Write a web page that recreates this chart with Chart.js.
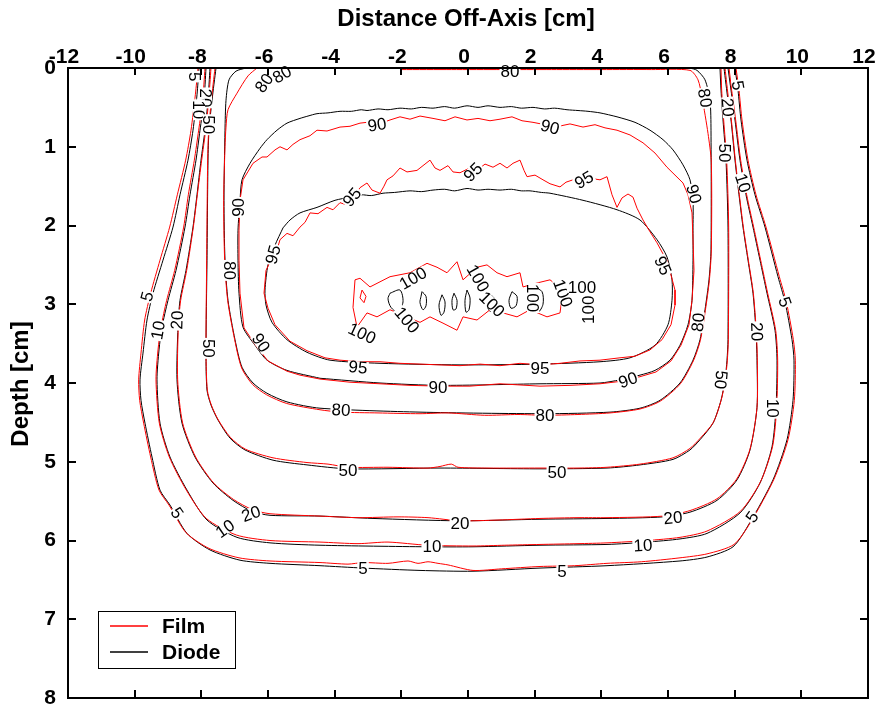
<!DOCTYPE html>
<html>
<head>
<meta charset="utf-8">
<title>Isodose contours: Film vs Diode</title>
<script src="https://cdn.jsdelivr.net/npm/chart.js@4.4.1/dist/chart.umd.min.js"></script>
<style>
  html, body { margin: 0; padding: 0; background: #ffffff; }
  #wrap { width: 880px; height: 707px; }
</style>
</head>
<body>
<div id="wrap"><canvas id="c" width="880" height="707"></canvas></div>
<script>
// Axes
const xTickValues = [-12, -10, -8, -6, -4, -2, 0, 2, 4, 6, 8, 10, 12];
const xTickLabels = ['-12', '-10', '-8', '-6', '-4', '-2', '0', '2', '4', '6', '8', '10', '12'];
const yTickValues = [0, 1, 2, 3, 4, 5, 6, 7, 8];
const yTickLabels = ['0', '1', '2', '3', '4', '5', '6', '7', '8'];
const seriesNames = ['Film', 'Diode'];

// Diode isodose lines: [off-axis cm, depth cm]
const diode5 = [[-8.07,0],[-8.13,0.34],[-8.25,0.79],[-8.40,1.17],[-8.64,1.61],[-8.85,2.02],[-9.15,2.44],[-9.45,2.86],[-9.63,3.20],[-9.75,3.62],[-9.84,3.96],[-9.81,4.22],[-9.69,4.51],[-9.48,4.94],[-9.24,5.36],[-8.94,5.55],[-8.43,5.91],[-7.74,6.12],[-6.84,6.25],[-5.94,6.29],[-4.44,6.32],[-3.15,6.35],[-1.44,6.38],[0.15,6.39],[2.16,6.35],[4.17,6.32],[6.36,6.26],[7.17,6.21],[7.95,6.08],[8.46,5.77],[9.15,5.23],[9.57,4.72],[9.75,4.22],[9.78,3.71],[9.72,3.45],[9.51,2.97],[9.30,2.65],[8.91,2.02],[8.61,1.61],[8.37,1.17],[8.19,0.66],[8.10,0.28],[8.01,0]];
const diode10 = [[-7.86,0],[-7.92,0.41],[-8.04,0.79],[-8.16,1.17],[-8.34,1.61],[-8.49,2.02],[-8.76,2.57],[-9.00,2.95],[-9.18,3.29],[-9.27,3.58],[-9.33,3.96],[-9.24,4.51],[-8.94,4.94],[-8.43,5.36],[-7.83,5.74],[-6.93,5.96],[-5.94,6.03],[-4.44,6.06],[-1.23,6.08],[0.15,6.08],[2.16,6.06],[4.17,6.05],[5.37,6.02],[6.36,5.98],[7.17,5.91],[8.16,5.65],[8.76,5.27],[9.12,4.81],[9.24,4.31],[9.27,3.71],[9.21,3.33],[8.97,2.86],[8.76,2.44],[8.55,2.02],[8.34,1.61],[8.16,1.17],[8.01,0.66],[7.89,0.28],[7.80,0]];
const diode20 = [[-7.74,0],[-7.80,0.41],[-7.89,0.79],[-8.01,1.17],[-8.13,1.61],[-8.25,2.02],[-8.46,2.57],[-8.64,2.95],[-8.70,3.29],[-8.73,3.96],[-8.58,4.51],[-8.19,4.94],[-7.65,5.27],[-7.05,5.49],[-6.48,5.63],[-5.94,5.68],[-4.44,5.69],[-2.85,5.72],[-0.24,5.75],[2.16,5.73],[4.17,5.72],[5.85,5.70],[6.66,5.64],[7.47,5.49],[8.07,5.23],[8.46,4.85],[8.67,4.31],[8.67,3.71],[8.64,3.35],[8.55,2.86],[8.40,2.44],[8.25,2.02],[8.13,1.61],[8.01,1.17],[7.89,0.66],[7.80,0.41],[7.68,0]];
const diode50 = [[-7.56,0],[-7.68,0.41],[-7.77,0.79],[-7.80,1.17],[-7.83,2.44],[-7.86,3.62],[-7.83,4.09],[-7.71,4.28],[-7.50,4.47],[-7.14,4.70],[-6.69,4.85],[-5.85,4.98],[-4.83,5.04],[-3.60,5.09],[-0.84,5.08],[2.16,5.09],[4.17,5.08],[5.16,5.04],[6.15,4.97],[6.66,4.85],[6.96,4.72],[7.35,4.51],[7.59,4.22],[7.71,3.96],[7.77,3.71],[7.80,3.45],[7.80,2.02],[7.74,1.17],[7.65,0.66],[7.59,0.28],[7.56,0]];
const diode80 = [[-6.66,0],[-6.96,0.04],[-7.17,0.15],[-7.26,0.41],[-7.29,0.79],[-7.32,1.68],[-7.29,2.44],[-7.20,2.95],[-6.99,3.45],[-6.78,3.80],[-6.45,4.00],[-6.03,4.13],[-5.43,4.24],[-4.44,4.32],[-1.44,4.37],[2.31,4.39],[4.26,4.37],[5.16,4.32],[5.76,4.22],[6.36,4.00],[6.75,3.71],[6.96,3.45],[7.11,3.07],[7.23,2.69],[7.29,2.31],[7.29,0.79],[7.26,0.41],[7.11,0.15],[6.87,0.03],[6.66,0]];
const diode90 = [[-4.44,3.94],[-5.43,3.84],[-6.03,3.71],[-6.39,3.52],[-6.75,3.29],[-6.87,2.86],[-6.90,2.44],[-6.90,2.06],[-6.84,1.68],[-6.78,1.42],[-6.54,1.21],[-6.24,1.02],[-6.03,0.91],[-5.73,0.79],[-5.43,0.70],[-5.04,0.64],[-4.80,0.61],[-4.53,0.58],[-4.20,0.57],[-3.84,0.55],[-3.50,0.55],[-3.20,0.53],[-3.03,0.54],[-2.70,0.52],[-2.40,0.53],[-2.04,0.51],[-1.70,0.52],[-1.40,0.50],[-1.05,0.51],[-0.70,0.49],[-0.40,0.51],[-0.03,0.48],[0.30,0.50],[0.60,0.48],[0.96,0.50],[1.30,0.49],[1.60,0.51],[1.95,0.50],[2.30,0.52],[2.60,0.51],[2.97,0.53],[3.30,0.54],[3.60,0.55],[3.96,0.57],[4.47,0.62],[5.01,0.69],[5.46,0.79],[5.85,0.91],[6.15,1.04],[6.45,1.23],[6.66,1.42],[6.75,1.68],[6.75,2.06],[6.75,2.44],[6.72,2.95],[6.60,3.26],[6.36,3.52],[6.06,3.71],[5.61,3.84],[5.16,3.90],[4.56,3.96],[3.96,4.00],[2.16,4.01],[-0.84,4.03],[-2.64,4.00],[-4.44,3.94]];
const diode95 = [[-5.55,2.03],[-5.34,1.93],[-5.04,1.84],[-4.53,1.77],[-3.99,1.68],[-3.54,1.64],[-3.20,1.61],[-2.90,1.62],[-2.55,1.59],[-2.20,1.58],[-1.74,1.56],[-1.40,1.57],[-1.05,1.55],[-0.70,1.54],[-0.40,1.56],[-0.03,1.53],[0.30,1.55],[0.60,1.54],[0.96,1.55],[1.30,1.54],[1.60,1.56],[1.86,1.56],[2.20,1.58],[2.46,1.59],[3.45,1.68],[4.47,1.80],[5.16,1.93],[5.67,2.18],[5.97,2.40],[6.12,2.69],[6.12,2.95],[6.00,3.26],[5.61,3.52],[4.86,3.68],[3.96,3.73],[2.16,3.76],[-0.24,3.77],[-2.64,3.75],[-4.14,3.71],[-4.83,3.61],[-5.43,3.45],[-5.88,3.23],[-6.06,3.01],[-6.09,2.82],[-6.00,2.50],[-5.79,2.25],[-5.55,2.03]];
const diode100 = [
  [[-2.34,2.86],[-2.04,2.82],[-1.95,2.97],[-2.10,3.10],[-2.31,3.04],[-2.40,2.93],[-2.34,2.86]],
  [[-1.38,2.84],[-1.26,2.90],[-1.26,3.02],[-1.35,3.07],[-1.44,2.98],[-1.41,2.90],[-1.38,2.84]],
  [[-0.78,2.88],[-0.69,2.97],[-0.72,3.10],[-0.81,3.14],[-0.87,3.01],[-0.78,2.88]],
  [[-0.42,2.86],[-0.33,2.95],[-0.36,3.06],[-0.45,3.07],[-0.48,2.95],[-0.42,2.86]],
  [[-0.03,2.82],[0.06,2.92],[0.03,3.07],[-0.06,3.10],[-0.09,2.95],[-0.03,2.82]],
  [[0.60,2.86],[0.78,2.92],[0.81,3.04],[0.66,3.09],[0.54,2.97],[0.60,2.86]],
  [[1.32,2.84],[1.47,2.90],[1.44,3.02],[1.29,3.05],[1.23,2.95],[1.32,2.84]],
  [[1.98,2.78],[2.22,2.84],[2.25,3.00],[2.10,3.10],[1.89,3.02],[1.86,2.88],[1.98,2.78]]
];

// Film isodose lines: [off-axis cm, depth cm]
const film5 = [[-8.10,0],[-8.18,0.34],[-8.31,0.79],[-8.47,1.17],[-8.72,1.61],[-8.95,2.02],[-9.24,2.44],[-9.52,2.86],[-9.70,3.20],[-9.81,3.62],[-9.88,3.96],[-9.85,4.22],[-9.73,4.51],[-9.52,4.94],[-9.27,5.36],[-8.97,5.55],[-8.46,5.90],[-7.77,6.10],[-6.87,6.22],[-5.94,6.26],[-4.44,6.28],[-3.60,6.30],[-3.15,6.28],[-2.40,6.29],[-1.80,6.26],[-1.50,6.29],[-1.20,6.27],[-0.90,6.29],[-0.60,6.31],[0.15,6.38],[1.00,6.36],[2.16,6.33],[3.20,6.32],[4.17,6.29],[5.20,6.27],[6.36,6.22],[7.17,6.17],[7.98,6.05],[8.49,5.76],[9.18,5.22],[9.60,4.72],[9.79,4.22],[9.82,3.71],[9.76,3.45],[9.55,2.97],[9.34,2.65],[8.94,2.02],[8.64,1.61],[8.40,1.17],[8.22,0.66],[8.13,0.28],[8.04,0]];
const film10 = [[-7.89,0],[-7.96,0.41],[-8.08,0.79],[-8.21,1.17],[-8.39,1.61],[-8.53,2.02],[-8.80,2.57],[-9.04,2.95],[-9.21,3.29],[-9.30,3.58],[-9.36,3.96],[-9.26,4.51],[-8.96,4.94],[-8.45,5.36],[-7.85,5.72],[-6.95,5.93],[-5.94,6.00],[-4.44,6.02],[-3.30,6.04],[-2.40,6.02],[-1.23,6.06],[0.15,6.07],[1.10,6.06],[2.16,6.05],[3.30,6.04],[4.17,6.03],[5.37,6.00],[6.36,5.96],[7.17,5.88],[8.17,5.63],[8.78,5.25],[9.14,4.80],[9.26,4.31],[9.29,3.71],[9.23,3.33],[8.99,2.86],[8.78,2.44],[8.57,2.02],[8.36,1.61],[8.18,1.17],[8.03,0.66],[7.91,0.28],[7.83,0]];
const film20 = [[-7.71,0],[-7.78,0.41],[-7.87,0.79],[-7.99,1.17],[-8.12,1.61],[-8.24,2.02],[-8.44,2.57],[-8.62,2.95],[-8.69,3.29],[-8.71,3.96],[-8.56,4.51],[-8.17,4.94],[-7.63,5.27],[-7.03,5.48],[-6.46,5.61],[-5.94,5.66],[-4.44,5.69],[-3.30,5.71],[-2.10,5.70],[-1.20,5.71],[-0.24,5.75],[0.90,5.74],[2.16,5.72],[3.30,5.71],[4.17,5.71],[5.85,5.69],[6.66,5.62],[7.47,5.47],[8.06,5.22],[8.46,4.84],[8.67,4.31],[8.68,3.71],[8.65,3.35],[8.56,2.86],[8.41,2.44],[8.26,2.02],[8.14,1.61],[8.02,1.17],[7.90,0.66],[7.82,0.41],[7.71,0]];
const film50 = [[-7.59,0],[-7.70,0.41],[-7.78,0.79],[-7.81,1.17],[-7.84,2.44],[-7.86,3.62],[-7.82,4.09],[-7.70,4.28],[-7.49,4.47],[-7.13,4.69],[-6.68,4.84],[-5.85,4.95],[-4.83,5.01],[-4.20,5.03],[-3.60,5.07],[-2.40,5.07],[-1.20,5.08],[-0.84,5.06],[-0.50,5.03],[-0.30,5.07],[0.60,5.08],[2.16,5.08],[3.30,5.08],[4.17,5.07],[5.16,5.03],[6.15,4.95],[6.66,4.83],[6.97,4.70],[7.36,4.50],[7.60,4.21],[7.72,3.95],[7.78,3.71],[7.81,3.45],[7.82,2.02],[7.76,1.17],[7.67,0.66],[7.61,0.28],[7.59,0]];
const film80 = [[-6.33,0],[-6.60,0.10],[-6.93,0.32],[-7.20,0.53],[-7.26,0.75],[-7.29,1.00],[-7.33,1.68],[-7.30,2.44],[-7.21,2.95],[-7.00,3.45],[-6.79,3.81],[-6.46,4.02],[-6.04,4.15],[-5.44,4.26],[-4.44,4.34],[-3.80,4.37],[-2.70,4.38],[-1.44,4.39],[-0.60,4.38],[0.50,4.41],[1.50,4.40],[2.31,4.41],[3.30,4.40],[4.26,4.38],[5.16,4.33],[5.77,4.23],[6.37,4.01],[6.76,3.72],[6.97,3.46],[7.12,3.08],[7.24,2.70],[7.30,2.31],[7.30,1.20],[7.20,0.83],[7.02,0.37],[6.90,0.15],[6.66,0.03],[5.50,0.02],[4.00,0.02],[2.50,0.02],[1.00,0.02],[-0.50,0.02],[-2.00,0.02]];
const film90 = [[-6.84,1.68],[-6.75,1.42],[-6.45,1.21],[-6.18,1.13],[-6.03,1.13],[-5.79,1.04],[-5.64,1.00],[-5.43,1.04],[-5.25,0.97],[-5.04,0.91],[-4.74,0.86],[-4.53,0.79],[-4.23,0.80],[-3.84,0.75],[-3.54,0.74],[-3.24,0.70],[-3.03,0.69],[-2.73,0.72],[-2.34,0.66],[-2.04,0.62],[-1.74,0.65],[-1.44,0.61],[-1.05,0.64],[-0.69,0.67],[-0.39,0.62],[-0.03,0.66],[0.30,0.64],[0.66,0.67],[0.96,0.65],[1.32,0.62],[1.62,0.67],[1.95,0.69],[2.31,0.72],[2.61,0.75],[3.06,0.71],[3.45,0.75],[3.81,0.72],[4.11,0.76],[4.47,0.79],[4.86,0.85],[5.25,0.95],[5.61,1.08],[5.97,1.26],[6.21,1.36],[6.45,1.46],[6.60,1.61],[6.72,1.84],[6.75,2.18],[6.78,2.57],[6.72,2.95],[6.63,3.26],[6.39,3.52],[6.09,3.72],[5.64,3.86],[5.16,3.92],[4.56,3.98],[3.96,4.01],[3.06,4.03],[2.16,4.04],[0.96,4.01],[0.06,4.04],[-0.84,4.04],[-1.74,4.03],[-2.64,4.01],[-3.54,3.99],[-4.44,3.95],[-5.04,3.90],[-5.43,3.85],[-6.00,3.72],[-6.36,3.53],[-6.72,3.30],[-6.84,2.86],[-6.87,2.44],[-6.87,2.06],[-6.84,1.68]];
const film95 = [[-5.73,2.31],[-5.64,2.18],[-5.43,2.10],[-5.25,2.13],[-5.04,2.02],[-4.89,1.96],[-4.74,1.84],[-4.50,1.85],[-4.23,1.77],[-4.05,1.80],[-3.84,1.71],[-3.63,1.74],[-3.39,1.61],[-3.24,1.52],[-3.03,1.46],[-2.88,1.55],[-2.64,1.59],[-2.52,1.50],[-2.43,1.42],[-2.25,1.37],[-2.04,1.27],[-1.83,1.32],[-1.53,1.30],[-1.35,1.24],[-1.14,1.17],[-0.99,1.27],[-0.84,1.30],[-0.60,1.24],[-0.45,1.32],[-0.24,1.33],[0.00,1.28],[0.27,1.30],[0.51,1.22],[0.75,1.26],[0.96,1.21],[1.17,1.27],[1.35,1.21],[1.56,1.17],[1.68,1.30],[1.77,1.38],[2.01,1.36],[2.25,1.42],[2.46,1.47],[2.76,1.51],[2.94,1.45],[3.15,1.42],[3.42,1.47],[3.66,1.40],[3.96,1.42],[4.17,1.38],[4.32,1.61],[4.47,1.77],[4.62,1.65],[4.80,1.60],[4.95,1.64],[5.07,1.78],[5.25,1.93],[5.46,2.08],[5.67,2.22],[5.85,2.36],[5.97,2.44],[6.09,2.63],[6.21,2.82],[6.21,3.01],[6.09,3.26],[5.82,3.45],[5.46,3.58],[5.01,3.66],[4.56,3.68],[3.96,3.71],[3.36,3.72],[2.76,3.75],[2.16,3.77],[1.56,3.75],[0.96,3.78],[0.36,3.76],[-0.24,3.78],[-0.84,3.77],[-1.44,3.76],[-2.04,3.75],[-2.64,3.73],[-3.24,3.73],[-3.84,3.71],[-4.29,3.68],[-4.83,3.59],[-5.34,3.47],[-5.79,3.26],[-6.00,3.05],[-6.12,2.86],[-6.06,2.57],[-5.88,2.41],[-5.73,2.31]];
const film100 = [
  [[-3.39,2.69],[-3.24,2.67],[-2.94,2.78],[-2.34,2.65],[-1.74,2.60],[-1.23,2.48],[-0.93,2.53],[-0.63,2.60],[-0.33,2.46],[-0.15,2.69],[0.27,2.53],[0.57,2.50],[0.87,2.60],[1.17,2.65],[1.56,2.60],[1.65,2.78],[2.07,2.73],[2.46,2.69],[2.85,2.82],[2.76,3.11],[2.37,3.16],[1.86,3.07],[1.47,3.16],[1.05,3.11],[0.66,3.07],[0.27,3.20],[-0.15,3.16],[-0.33,3.33],[-0.75,3.24],[-1.14,3.16],[-1.44,3.23],[-1.83,3.16],[-2.34,3.07],[-2.73,3.16],[-3.03,3.11],[-3.33,3.29],[-3.45,3.04],[-3.39,2.69]],
  [[-3.18,2.82],[-3.06,2.90],[-3.12,2.98],[-3.24,2.92],[-3.18,2.82]]
];

// Contour value labels, placed in data units along the lines
const labelText  = ['5','20','10','50','80','80','90','95','80','5','10','20','50','90','95','90','95','90','95','90','95','80','20','5','50','10','5','20','80','50','10','5','20','10','5','10','5','20','20','10','5','50','50','80','80','90','90','95','95','80','100','100','100','100','100','100','100','100','100'];
const labelX     = [-8.19,-7.86,-8.07,-7.77,-6.12,-5.58,-6.90,-5.85,-7.14,-9.63,-9.30,-8.73,-7.77,-6.21,-3.48,-2.73,0.15,2.46,3.48,6.78,5.85,7.11,7.80,8.10,7.71,8.25,9.51,8.67,6.90,7.59,9.15,8.52,6.15,5.25,2.82,-1.08,-3.15,-0.24,-6.51,-7.29,-8.73,-3.60,2.67,-3.81,2.31,-0.90,4.80,-3.30,2.16,1.26,-1.65,-3.18,-1.83,0.30,0.72,1.95,2.85,3.42,3.60];
const labelDepth = [0.11,0.38,0.53,0.72,0.19,0.08,1.77,2.37,2.57,2.90,3.33,3.20,3.56,3.49,1.64,0.72,1.32,0.75,1.42,1.60,2.51,0.38,0.50,0.22,1.08,1.46,2.97,3.35,3.23,3.96,4.32,5.70,5.71,6.06,6.39,6.08,6.35,5.78,5.66,5.85,5.65,5.11,5.13,4.34,4.41,4.05,3.96,3.80,3.81,0.04,2.67,3.37,3.20,2.67,3.00,2.92,2.86,2.78,3.07];
const labelAngle = [90,90,90,90,-55,-30,-90,-75,90,-75,-80,-88,90,55,-50,-8,-45,15,-30,75,65,80,85,80,90,72,70,88,-85,95,90,-55,-5,-3,0,0,0,0,-20,-35,55,0,0,3,0,0,-20,5,0,0,-30,25,50,60,45,90,70,0,-90];

const FILM_COLOR = '#ff0000';
const DIODE_COLOR = '#000000';

function toPoints(line) { return line.map(p => ({ x: p[0], y: p[1] })); }
function contourSet(line, color, tension) {
  return {
    data: toPoints(line),
    showLine: true,
    borderColor: color,
    borderWidth: 1,
    pointRadius: 0,
    pointHoverRadius: 0,
    tension: tension,
    fill: false
  };
}

const filmLines = [film5, film10, film20, film50, film80];
const filmJagged = [film90, film95, ...film100];
const diodeLines = [diode5, diode10, diode20, diode50, diode80, diode90, diode95];

const datasets = [
  ...filmLines.map(l => contourSet(l, FILM_COLOR, 0.25)),
  ...filmJagged.map(l => contourSet(l, FILM_COLOR, 0)),
  ...diodeLines.map(l => contourSet(l, DIODE_COLOR, 0.25)),
  ...diode100.map(l => contourSet(l, DIODE_COLOR, 0.3))
];

const FAMILY = '"Liberation Sans", Arial, Helvetica, sans-serif';

const frameAndText = {
  id: 'frameAndText',
  afterDatasetsDraw(chart) {
    const ctx = chart.ctx;
    const xs = chart.scales.x, ys = chart.scales.y;
    const a = chart.chartArea;
    ctx.save();

    // contour labels with a white knock-out behind each
    ctx.font = '17px ' + FAMILY;
    ctx.textAlign = 'center';
    ctx.textBaseline = 'middle';
    for (let i = 0; i < labelText.length; i++) {
      const px = xs.getPixelForValue(labelX[i]);
      const py = ys.getPixelForValue(labelDepth[i]);
      ctx.save();
      ctx.translate(px, py);
      ctx.rotate(labelAngle[i] * Math.PI / 180);
      const w = ctx.measureText(labelText[i]).width;
      ctx.fillStyle = '#ffffff';
      ctx.fillRect(-w / 2 - 1, -6, w + 2, 12);
      ctx.fillStyle = '#000000';
      ctx.fillText(labelText[i], 0, 1);
      ctx.restore();
    }

    // plot frame
    ctx.strokeStyle = '#000000';
    ctx.lineWidth = 2;
    ctx.strokeRect(a.left, a.top, a.right - a.left, a.bottom - a.top);

    // inward ticks
    ctx.beginPath();
    xTickValues.forEach(v => {
      const px = Math.round(xs.getPixelForValue(v));
      ctx.moveTo(px, a.top); ctx.lineTo(px, a.top + 7);
      ctx.moveTo(px, a.bottom); ctx.lineTo(px, a.bottom - 8);
    });
    yTickValues.forEach(v => {
      const py = Math.round(ys.getPixelForValue(v));
      ctx.moveTo(a.left, py); ctx.lineTo(a.left + 8, py);
      ctx.moveTo(a.right, py); ctx.lineTo(a.right - 8, py);
    });
    ctx.stroke();

    // tick labels
    ctx.fillStyle = '#000000';
    ctx.font = 'bold 21px ' + FAMILY;
    ctx.textAlign = 'center';
    ctx.textBaseline = 'alphabetic';
    xTickValues.forEach((v, i) => {
      ctx.fillText(xTickLabels[i], xs.getPixelForValue(v) - 4, a.top - 5);
    });
    ctx.textAlign = 'right';
    ctx.textBaseline = 'middle';
    yTickValues.forEach((v, i) => {
      ctx.fillText(yTickLabels[i], a.left - 12, ys.getPixelForValue(v));
    });

    // axis titles
    ctx.font = 'bold 24px ' + FAMILY;
    ctx.textAlign = 'center';
    ctx.textBaseline = 'middle';
    ctx.fillText('Distance Off-Axis [cm]', 466, 19);
    ctx.save();
    ctx.translate(21, 384);
    ctx.rotate(-Math.PI / 2);
    ctx.fillText('Depth [cm]', 0, 0);
    ctx.restore();

    // legend
    ctx.lineWidth = 1;
    ctx.strokeStyle = '#000000';
    ctx.fillStyle = '#ffffff';
    ctx.fillRect(98.5, 611.5, 137, 57);
    ctx.strokeRect(98.5, 611.5, 137, 57);
    const rows = [[seriesNames[0], FILM_COLOR, 626], [seriesNames[1], DIODE_COLOR, 652]];
    ctx.font = 'bold 21px ' + FAMILY;
    ctx.textAlign = 'left';
    rows.forEach(([name, color, y]) => {
      ctx.strokeStyle = color;
      ctx.lineWidth = 1.5;
      ctx.beginPath();
      ctx.moveTo(110, y); ctx.lineTo(148, y);
      ctx.stroke();
      ctx.fillStyle = '#000000';
      ctx.fillText(name, 162, y + 1);
    });

    ctx.restore();
  }
};

new Chart(document.getElementById('c'), {
  type: 'scatter',
  data: { datasets: datasets },
  options: {
    responsive: false,
    animation: false,
    events: [],
    devicePixelRatio: 1,
    layout: { padding: { left: 68, top: 68, right: 12, bottom: 9 } },
    plugins: { legend: { display: false }, tooltip: { enabled: false } },
    scales: {
      x: { type: 'linear', min: -12, max: 12, display: false },
      y: { type: 'linear', min: 0, max: 8, reverse: true, display: false }
    }
  },
  plugins: [frameAndText]
});
</script>
</body>
</html>
